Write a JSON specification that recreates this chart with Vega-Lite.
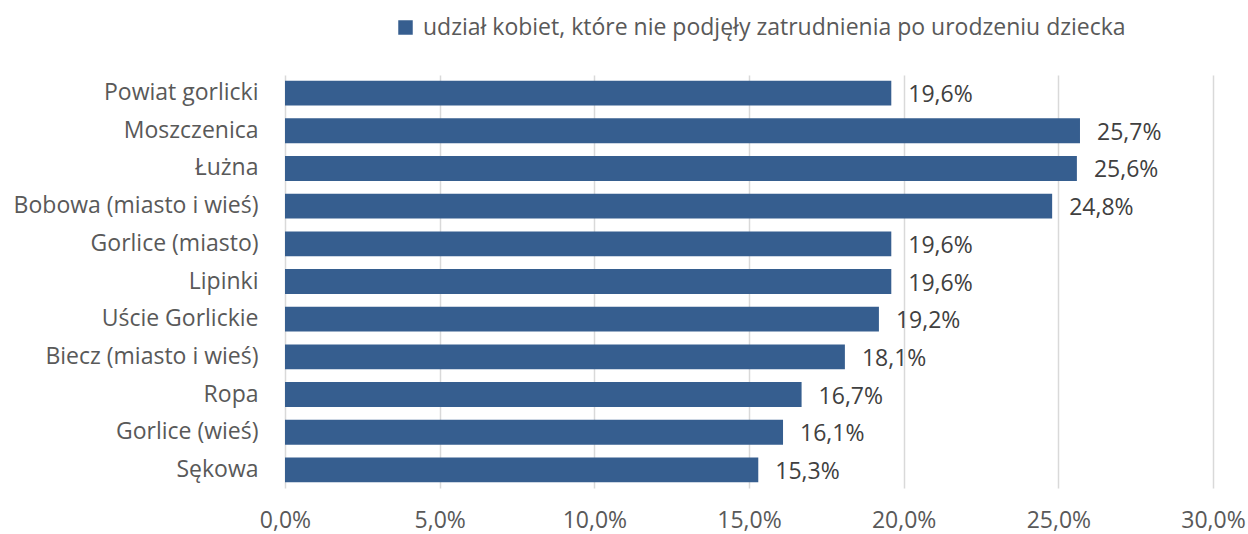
{
  "$schema": "https://vega.github.io/schema/vega-lite/v6.json",
  "autosize": "none",
  "width": 928,
  "height": 413,
  "padding": {"left": 285, "top": 75, "right": 35, "bottom": 46},
  "background": "white",
  "data": {
    "values": [
      {"gmina": "Powiat gorlicki", "udzial": 0.196, "seria": "udział kobiet, które nie podjęły zatrudnienia po urodzeniu dziecka"},
      {"gmina": "Moszczenica", "udzial": 0.257, "seria": "udział kobiet, które nie podjęły zatrudnienia po urodzeniu dziecka"},
      {"gmina": "Łużna", "udzial": 0.256, "seria": "udział kobiet, które nie podjęły zatrudnienia po urodzeniu dziecka"},
      {"gmina": "Bobowa (miasto i wieś)", "udzial": 0.248, "seria": "udział kobiet, które nie podjęły zatrudnienia po urodzeniu dziecka"},
      {"gmina": "Gorlice (miasto)", "udzial": 0.196, "seria": "udział kobiet, które nie podjęły zatrudnienia po urodzeniu dziecka"},
      {"gmina": "Lipinki", "udzial": 0.196, "seria": "udział kobiet, które nie podjęły zatrudnienia po urodzeniu dziecka"},
      {"gmina": "Uście Gorlickie", "udzial": 0.192, "seria": "udział kobiet, które nie podjęły zatrudnienia po urodzeniu dziecka"},
      {"gmina": "Biecz (miasto i wieś)", "udzial": 0.181, "seria": "udział kobiet, które nie podjęły zatrudnienia po urodzeniu dziecka"},
      {"gmina": "Ropa", "udzial": 0.167, "seria": "udział kobiet, które nie podjęły zatrudnienia po urodzeniu dziecka"},
      {"gmina": "Gorlice (wieś)", "udzial": 0.161, "seria": "udział kobiet, które nie podjęły zatrudnienia po urodzeniu dziecka"},
      {"gmina": "Sękowa", "udzial": 0.153, "seria": "udział kobiet, które nie podjęły zatrudnienia po urodzeniu dziecka"}
    ]
  },
  "encoding": {
    "y": {
      "field": "gmina",
      "type": "nominal",
      "sort": null,
      "scale": {"paddingInner": 0.34, "paddingOuter": 0.15},
      "axis": {"title": null, "domain": false, "ticks": false, "labelPadding": 27, "labelFontSize": 23, "labelColor": "#595959", "labelFont": "Open Sans", "labelLimit": 400, "grid": false}
    },
    "x": {
      "field": "udzial",
      "type": "quantitative",
      "scale": {"domain": [0, 0.3], "nice": false},
      "axis": {"title": null, "format": ".1%", "values": [0, 0.05, 0.1, 0.15, 0.2, 0.25, 0.3], "domain": false, "ticks": false, "labelFlush": false, "labelBaseline": "alphabetic", "labelPadding": 39, "labelFontSize": 23, "labelColor": "#595959", "labelFont": "Open Sans", "grid": true, "gridColor": "#D9D9D9", "gridWidth": 1.5}
    }
  },
  "layer": [
    {
      "mark": {"type": "bar", "color": "#365E8F"},
      "encoding": {
        "color": {
          "field": "seria",
          "type": "nominal",
          "scale": {"range": ["#365E8F"]},
          "legend": {"title": null, "orient": "none", "legendX": 109, "legendY": -59, "symbolType": "square", "symbolSize": 210, "symbolStrokeWidth": 0, "labelFontSize": 23, "labelColor": "#595959", "labelFont": "Open Sans", "labelLimit": 900, "labelOffset": 6}
        }
      }
    },
    {
      "mark": {"type": "text", "align": "left", "baseline": "middle", "dx": 17, "dy": 2, "fontSize": 23, "font": "Open Sans", "color": "#404040"},
      "encoding": {
        "text": {"field": "udzial", "type": "quantitative", "format": ".1%"}
      }
    }
  ],
  "config": {
    "view": {"stroke": null},
    "locale": {"number": {"decimal": ",", "thousands": " ", "grouping": [3], "currency": ["", " zł"]}}
  }
}
